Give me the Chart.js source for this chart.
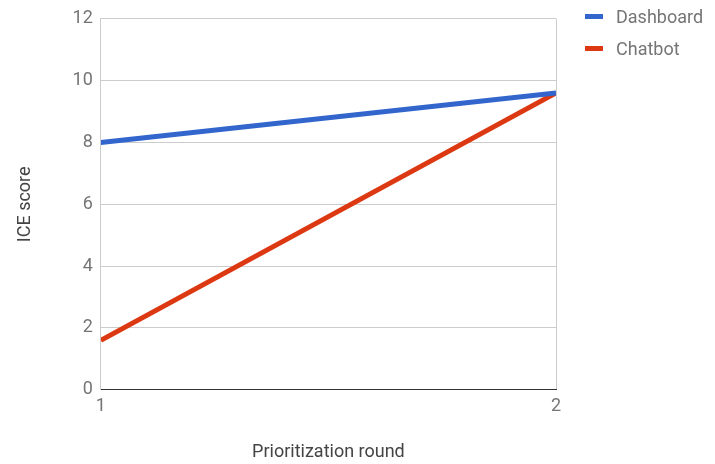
<!DOCTYPE html>
<html>
<head>
<meta charset="utf-8">
<script src="https://cdn.jsdelivr.net/npm/chart.js@4/dist/chart.umd.min.js"></script>
<style>
    html, body { margin: 0; padding: 0; background: #fff; }
    .wrap { position: relative; width: 715px; height: 464px; }
    .legend { position: absolute; left: 585px; top: 4px; font-family: Roboto, sans-serif; font-size: 18px; color: #757575; }
    .legend-item { display: flex; align-items: center; height: 24px; margin-bottom: 8px; }
    .legend-swatch { width: 18px; height: 5px; margin-right: 13px; }
</style>
</head>
<body>
<div class="wrap">
    <canvas id="iceChart" width="715" height="464"></canvas>
    <div class="legend" id="legend"></div>
</div>
<script>
const rounds = [1, 2];
const dashboardScores = [8, 9.6];
const chatbotScores = [1.6, 9.6];
const seriesNames = ['Dashboard', 'Chatbot'];
const seriesColors = ['#3366cc', '#dc3912'];
const yTicks = [0, 2, 4, 6, 8, 10, 12];

function toPoints(values) {
    return rounds.map((r, i) => ({ x: r, y: values[i] }));
}

function buildLegend() {
    const legend = document.getElementById('legend');
    seriesNames.forEach((name, i) => {
        const item = document.createElement('div');
        item.className = 'legend-item';
        item.innerHTML = `<span class="legend-swatch" style="background:${seriesColors[i]}"></span>${name}`;
        legend.appendChild(item);
    });
}

document.addEventListener('DOMContentLoaded', function() {
    buildLegend();

    const ctx = document.getElementById('iceChart').getContext('2d');
    const tickFont = { family: 'Roboto', size: 18 };

    window.iceChart = new Chart(ctx, {
        type: 'line',
        data: {
            datasets: [{
                label: seriesNames[0],
                data: toPoints(dashboardScores),
                borderColor: seriesColors[0],
                backgroundColor: seriesColors[0],
                borderWidth: 5,
                pointRadius: 0,
                tension: 0
            }, {
                label: seriesNames[1],
                data: toPoints(chatbotScores),
                borderColor: seriesColors[1],
                backgroundColor: seriesColors[1],
                borderWidth: 5,
                pointRadius: 0,
                tension: 0
            }]
        },
        options: {
            responsive: false,
            animation: false,
            layout: {
                padding: { left: 15, right: 159, top: 5, bottom: 1 }
            },
            plugins: {
                legend: { display: false },
                tooltip: { enabled: false }
            },
            scales: {
                x: {
                    type: 'linear',
                    min: rounds[0],
                    max: rounds[rounds.length - 1],
                    afterBuildTicks: function(scale) {
                        scale.ticks = rounds.map(v => ({ value: v }));
                    },
                    grid: {
                        color: '#cccccc',
                        drawTicks: false
                    },
                    border: { color: '#333333', width: 1 },
                    ticks: {
                        font: tickFont,
                        color: '#757575',
                        padding: 6,
                        maxRotation: 0
                    },
                    title: {
                        display: true,
                        text: 'Prioritization round',
                        font: tickFont,
                        color: '#444444',
                        padding: { top: 18, bottom: 0 }
                    }
                },
                y: {
                    min: yTicks[0],
                    max: yTicks[yTicks.length - 1],
                    afterBuildTicks: function(scale) {
                        scale.ticks = yTicks.map(v => ({ value: v }));
                    },
                    grid: {
                        color: '#cccccc',
                        drawTicks: false
                    },
                    border: { color: '#cccccc', width: 1 },
                    ticks: {
                        font: tickFont,
                        color: '#757575',
                        padding: 8
                    },
                    title: {
                        display: true,
                        text: 'ICE score',
                        font: tickFont,
                        color: '#444444',
                        padding: { top: 0, bottom: 28 }
                    }
                }
            }
        }
    });
});
</script>
</body>
</html>
